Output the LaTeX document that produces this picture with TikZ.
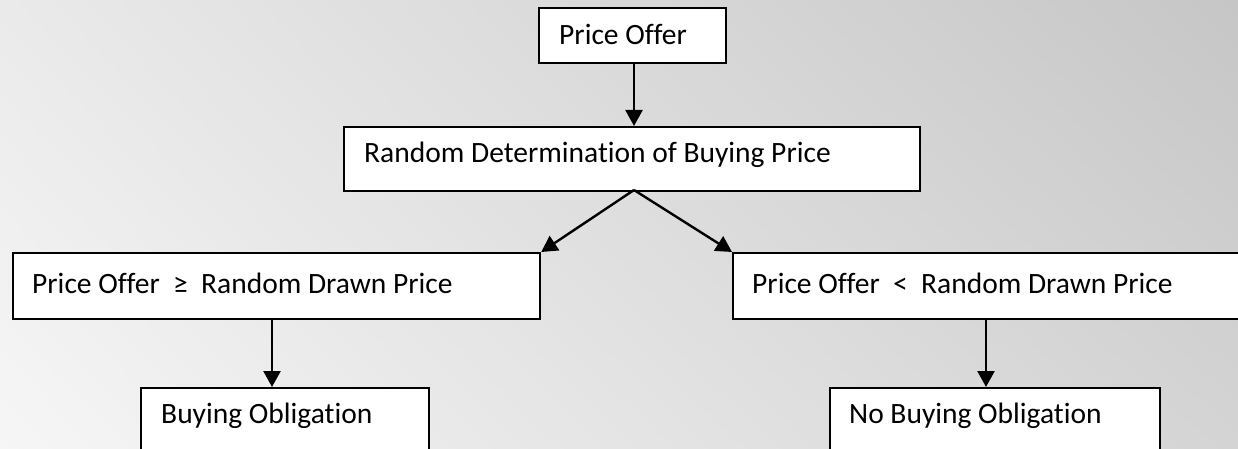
\documentclass[tikz,border=0pt]{standalone}
\usepackage{fontspec}
\setmainfont[RawFeature={-liga;-dlig;-clig}]{Carlito}
\usetikzlibrary{arrows.meta,calc,shadings}
\definecolor{bgTL}{RGB}{234,234,234}
\definecolor{bgTR}{RGB}{198,198,198}
\definecolor{bgBL}{RGB}{246,246,246}
\definecolor{bgBR}{RGB}{212,212,212}
\tikzset{
  box/.style={draw=black, line width=2.2pt, fill=white, rectangle, inner sep=0pt, anchor=north west},
  lbl/.style={anchor=base west, inner sep=0pt, font=\fontsize{29.5}{34}\selectfont},
  arr/.style={line width=2.4pt, -{Triangle[length=16pt,width=17pt]}}
}
\begin{document}
\begin{tikzpicture}[x=1pt,y=-1pt]
\useasboundingbox (0,0) rectangle (1238,449);
\shade[upper left=bgTL, upper right=bgTR, lower left=bgBL, lower right=bgBR] (0,0) rectangle (1238,449);
% boxes
\node[box, minimum width=187pt, minimum height=55pt] (A) at (538,7) {};
\node[box, minimum width=576pt, minimum height=64pt] (B) at (343,126) {};
\node[box, minimum width=527pt, minimum height=66pt] (C) at (12,252) {};
\node[box, minimum width=520pt, minimum height=66pt] (D) at (732,252) {};
\node[box, minimum width=288pt, minimum height=90pt] (E) at (140,387) {};
\node[box, minimum width=330pt, minimum height=90pt] (F) at (829,387) {};
% labels
\node[lbl] (tA) at (559,45) {Price Offer};
\node[lbl] (tB) at (364,163) {Random Determination of Buying Price};
\node[lbl] (tC) at (32,293) {Price Offer~~≥~~Random Drawn Price};
\node[lbl] (tD) at (752,293) {Price Offer~~<~~Random Drawn Price};
\node[lbl] (tE) at (161,423) {Buying Obligation};
\node[lbl] (tF) at (849,423) {No Buying Obligation};
% connectors
\coordinate (fork) at (634,190);
\draw[arr] (A.south -| fork) -- (B.north -| fork);
\draw[arr] (fork) -- (C.north east);
\draw[arr] (fork) -- (D.north west);
\draw[arr] ($(C.south west)+(260,0)$) -- ($(E.north west)+(132,0)$);
\draw[arr] ($(D.south west)+(254,0)$) -- ($(F.north west)+(157,0)$);
\end{tikzpicture}
\end{document}
